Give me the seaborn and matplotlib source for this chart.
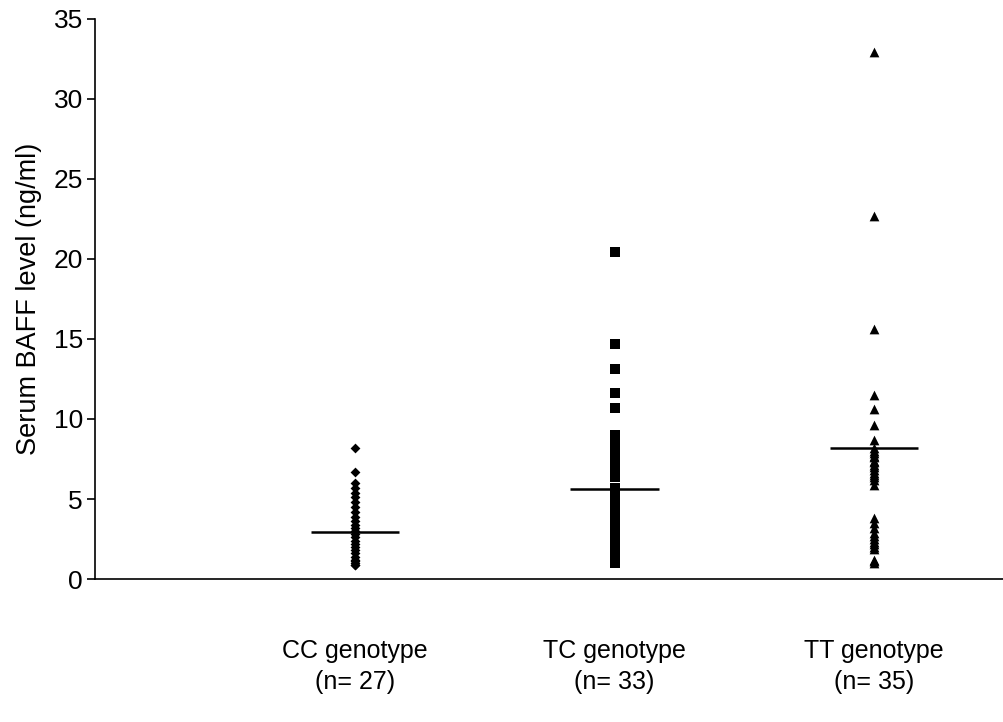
import numpy as np
import pandas as pd
import seaborn as sns
import matplotlib.pyplot as plt

# values
cc = [8.2, 6.7, 6.0, 5.7, 5.4, 5.1, 4.8, 4.5, 4.2, 3.9, 3.6, 3.4, 3.2, 3.0,
      2.8, 2.6, 2.4, 2.2, 2.0, 1.8, 1.6, 1.4, 1.2, 1.1, 1.0, 0.9, 0.9]
tc = [20.4, 14.7, 13.1, 11.6, 10.7, 9.0, 8.8, 8.5, 8.2, 7.9, 7.6, 7.3, 7.1,
      6.9, 6.7, 6.4, 5.7, 5.1, 4.8, 4.5, 4.2, 3.9, 3.6, 3.3, 3.0, 2.7, 2.4,
      2.1, 1.8, 1.5, 1.3, 1.1, 1.0]
tt = [32.9, 22.7, 15.6, 11.5, 10.6, 9.6, 8.7, 8.2, 8.0, 7.9, 7.7, 7.6, 7.4,
      7.3, 7.1, 7.0, 6.8, 6.6, 6.5, 6.4, 6.2, 5.9, 3.8, 3.5, 3.2, 2.9, 2.7,
      2.5, 2.3, 2.2, 2.0, 1.9, 1.2, 1.1, 1.0]
groups = ['CC genotype\n(n= 27)', 'TC genotype\n(n= 33)', 'TT genotype\n(n= 35)']
center_lines = [2.95, 5.6, 8.2]
markers = ['D', 's', '^']
msizes = [5, 6.5, 7]

df = pd.DataFrame({
    'group': [groups[0]] * len(cc) + [groups[1]] * len(tc) + [groups[2]] * len(tt),
    'baff': cc + tc + tt,
})

sns.set_theme(style='white')
plt.rcParams['font.family'] = ['Liberation Sans', 'DejaVu Sans']
plt.rcParams['text.color'] = 'black'
plt.rcParams['axes.labelcolor'] = 'black'
plt.rcParams['xtick.color'] = 'black'
plt.rcParams['ytick.color'] = 'black'

fig = plt.figure(figsize=(10.04, 7.22), dpi=100)
ax = fig.add_axes([0.095, 0.198, 0.905, 0.776])

for g, m, s in zip(groups, markers, msizes):
    sns.stripplot(data=df[df['group'] == g], x='group', y='baff', order=groups,
                  jitter=False, marker=m, size=s, color='black', linewidth=0, ax=ax)

xs = np.arange(len(groups))
ax.hlines(center_lines, xs - 0.17, xs + 0.17, color='black', linewidth=1.8)

ax.set_xlim(-1.0, 2.5)
ax.set_ylim(0, 35)
ax.set_yticks(range(0, 36, 5))
ax.set_xlabel('')
ax.set_ylabel('Serum BAFF level (ng/ml)', fontsize=19.5, labelpad=8)

ax.spines['top'].set_visible(False)
ax.spines['right'].set_visible(False)
for sp in ['left', 'bottom']:
    ax.spines[sp].set_color('black')
    ax.spines[sp].set_linewidth(1.2)

ax.tick_params(axis='y', left=True, length=6, width=1.2, labelsize=19, pad=3)
ax.tick_params(axis='x', bottom=False, labelsize=18, pad=37)
for lab in ax.get_xticklabels():
    lab.set_linespacing(1.4)

fig.savefig('out.png', dpi=100)
